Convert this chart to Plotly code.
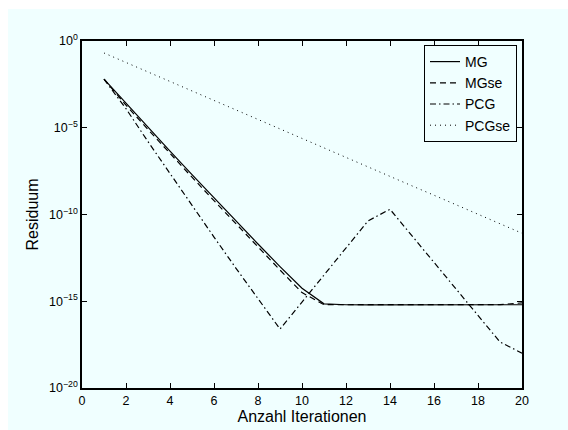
import plotly.graph_objects as go

iterations = list(range(1, 21))

mg = [6.31e-3, 2.51e-4, 1.0e-5, 4.47e-7, 2.0e-8, 8.91e-10, 3.98e-11, 2.0e-12,
      1.0e-13, 5.62e-15, 7.08e-16, 6.3e-16, 6.2e-16, 6.3e-16, 6.4e-16, 6.3e-16,
      6.2e-16, 6.3e-16, 6.3e-16, 6.3e-16]

mgse = [6.31e-3, 2.0e-4, 7.94e-6, 3.16e-7, 1.41e-8, 6.31e-10, 2.82e-11, 1.26e-12,
        6.31e-14, 3.16e-15, 6.31e-16, 6.3e-16, 6.4e-16, 6.3e-16, 6.3e-16, 6.4e-16,
        6.3e-16, 6.3e-16, 6.4e-16, 8.0e-16]

pcg = [6.31e-3, 1.26e-4, 1.58e-6, 2.24e-8, 3.16e-10, 5.01e-12, 7.94e-14, 1.41e-15,
       2.51e-17, 8.91e-16, 3.16e-14, 1.26e-12, 4.27e-11, 2.0e-10, 5.89e-12, 1.74e-13,
       5.13e-15, 1.51e-16, 4.47e-18, 1.02e-18]

pcgse = [2.04e-1, 5.75e-2, 1.62e-2, 4.68e-3, 1.32e-3, 3.72e-4, 1.07e-4, 3.02e-5,
         8.51e-6, 2.45e-6, 6.92e-7, 1.95e-7, 5.62e-8, 1.58e-8, 4.47e-9, 1.29e-9,
         3.63e-10, 1.02e-10, 2.95e-11, 8.32e-12]

series_names = ["MG", "MGse", "PCG", "PCGse"]
x_ticks = list(range(0, 21, 2))
y_tickvals = [1, 1e-5, 1e-10, 1e-15, 1e-20]
y_ticktext = ["10<sup>0</sup>", "10<sup>\u22125</sup>", "10<sup>\u221210</sup>",
              "10<sup>\u221215</sup>", "10<sup>\u221220</sup>"]

BG = "#f0ffff"
FONT = "Liberation Sans, Arial, Helvetica, sans-serif"

styles = [
    dict(dash="solid", width=1.2),
    dict(dash="6px,4px", width=1.2),
    dict(dash="6px,3px,1.5px,3px", width=1.2),
    dict(dash="1px,4px", width=1),
]

fig = go.Figure()
for name, ys, st in zip(series_names, [mg, mgse, pcg, pcgse], styles):
    fig.add_trace(go.Scatter(
        x=iterations, y=ys, mode="lines", name=name,
        line=dict(color="black", width=st["width"], dash=st["dash"]),
    ))

axis_common = dict(
    showline=True, linecolor="black", linewidth=1.5, mirror="allticks",
    ticks="inside", ticklen=5, tickcolor="black", tickwidth=1,
    showgrid=False, zeroline=False, automargin=False,
    tickfont=dict(family=FONT, size=12.5, color="black"),
)

fig.update_xaxes(
    range=[0, 20], tickvals=x_ticks, ticktext=[str(v) for v in x_ticks],
    title=dict(text="Anzahl Iterationen", font=dict(family=FONT, size=16, color="black"), standoff=4),
    **axis_common,
)
fig.update_yaxes(
    type="log", range=[-20, 0], tickvals=y_tickvals, ticktext=y_ticktext,
    title=dict(text="Residuum", font=dict(family=FONT, size=16, color="black"), standoff=6),
    **axis_common,
)

fig.add_shape(
    type="rect", xref="paper", yref="paper",
    x0=(8 - 82) / 440, x1=(570 - 82) / 440,
    y0=(388 - 432) / 347, y1=(388 - 9) / 347,
    fillcolor=BG, line=dict(width=0), layer="below",
)

fig.update_layout(
    width=568, height=430,
    margin=dict(l=82, r=46, t=41, b=42, autoexpand=False),
    paper_bgcolor="white", plot_bgcolor=BG,
    font=dict(family=FONT, color="black"),
    showlegend=True,
    legend=dict(
        x=(517 - 82) / 440, y=(388 - 45) / 347, xanchor="right", yanchor="top",
        bgcolor=BG, bordercolor="black", borderwidth=1,
        font=dict(family=FONT, size=14, color="black"),
        tracegroupgap=0,
    ),
)

fig.write_html("out.html")
